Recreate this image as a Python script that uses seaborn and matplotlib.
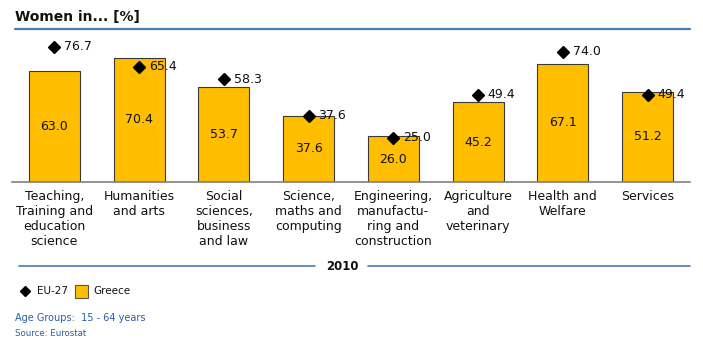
import matplotlib
matplotlib.use("Agg")
import matplotlib.pyplot as plt
import seaborn as sns
import pandas as pd
from matplotlib.lines import Line2D
from matplotlib.patches import Rectangle

categories = [
    "Teaching,\nTraining and\neducation\nscience",
    "Humanities\nand arts",
    "Social\nsciences,\nbusiness\nand law",
    "Science,\nmaths and\ncomputing",
    "Engineering,\nmanufactu-\nring and\nconstruction",
    "Agriculture\nand\nveterinary",
    "Health and\nWelfare",
    "Services",
]
greece = [63.0, 70.4, 53.7, 37.6, 26.0, 45.2, 67.1, 51.2]
eu27 = [76.7, 65.4, 58.3, 37.6, 25.0, 49.4, 74.0, 49.4]

sns.set_theme(style="white")
plt.rcParams["font.family"] = ["DejaVu Sans"]

W, H = 703, 343
fig = plt.figure(figsize=(W / 100, H / 100), dpi=100)
ax = fig.add_axes([12 / W, (H - 182) / H, 678 / W, 141 / H])

df = pd.DataFrame({"cat": categories, "greece": greece, "eu": eu27})
bar_color = "#FFBE00"
sns.barplot(data=df, x="cat", y="greece", color=bar_color, width=0.6,
            edgecolor="#3a3a3a", linewidth=0.8, saturation=1, ax=ax)

ax.set_xlim(-0.5, len(categories) - 0.5)
ax.set_ylim(0, 80)

for i, (g, e) in enumerate(zip(greece, eu27)):
    ax.text(i, g / 2, f"{g:.1f}", ha="center", va="center", fontsize=9, color="#111111")
    ax.plot(i, e, marker="D", markersize=6.2, color="black", linestyle="none")
    ax.annotate(f"{e:.1f}", (i, e), xytext=(7, 0), textcoords="offset points",
                ha="left", va="center", fontsize=9, color="#111111")

for s in ["top", "right", "left"]:
    ax.spines[s].set_visible(False)
ax.spines["bottom"].set_color("#808080")
ax.spines["bottom"].set_linewidth(1.2)
ax.set_yticks([])
ax.set_xlabel("")
ax.set_ylabel("")
ax.tick_params(axis="x", length=0, pad=6)
ax.set_xticks(range(len(categories)))
ax.set_xticklabels(categories, fontsize=9, linespacing=1.2, color="#111111", va="top")

blue = "#4a7db5"
text_blue = "#2a5fa5"

# Title and rule
fig.text(15 / W, 1 - 17 / H, "Women in... [%]", fontsize=10, fontweight="bold",
         ha="left", va="center", color="#111111")
fig.add_artist(Line2D([15 / W, 690 / W], [1 - 29 / H, 1 - 29 / H], color=blue, lw=1.6))

# Year separator
fig.text(342 / W, 1 - 267 / H, "2010", fontsize=8.5, fontweight="bold",
         ha="center", va="center", color="#111111")
fig.add_artist(Line2D([19 / W, 315 / W], [1 - 266 / H] * 2, color=blue, lw=1.2))
fig.add_artist(Line2D([368 / W, 690 / W], [1 - 266 / H] * 2, color=blue, lw=1.2))

# Legend
ly = 1 - 291 / H
fig.add_artist(Line2D([25 / W], [ly], marker="D", markersize=5.5, color="black",
                      linestyle="none"))
fig.text(37 / W, ly, "EU-27", fontsize=7.5, ha="left", va="center", color="#111111")
fig.add_artist(Rectangle((75 / W, 1 - 298 / H), 13 / W, 13 / H, facecolor=bar_color,
                         edgecolor="#555555", linewidth=0.8, transform=fig.transFigure))
fig.text(93 / W, ly, "Greece", fontsize=7.5, ha="left", va="center", color="#111111")

fig.text(15 / W, 1 - 318 / H, "Age Groups:  15 - 64 years", fontsize=7,
         ha="left", va="center", color=text_blue)
fig.text(15 / W, 1 - 333 / H, "Source: Eurostat", fontsize=6.2,
         ha="left", va="center", color=text_blue)

fig.savefig("out.png", dpi=100)
